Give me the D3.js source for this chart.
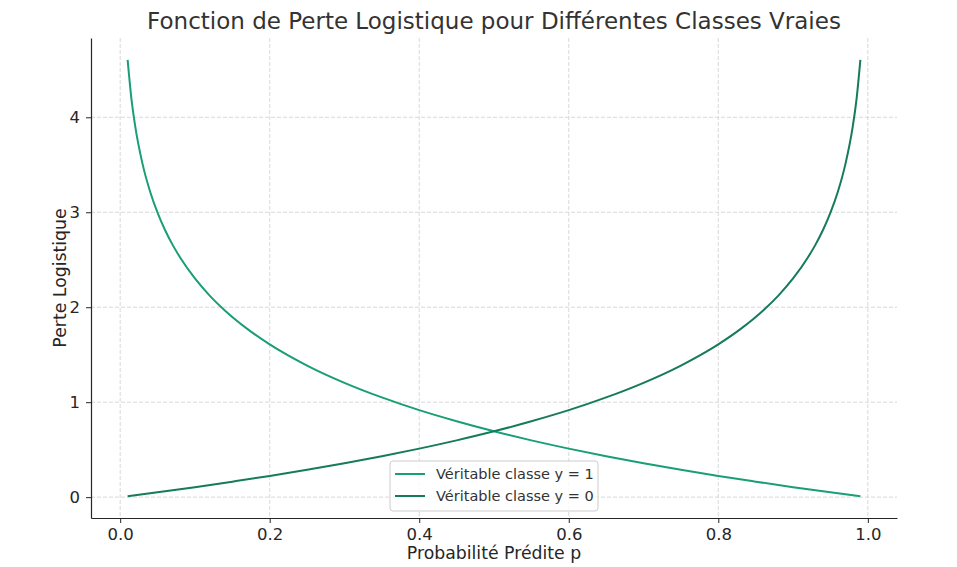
<!DOCTYPE html>
<html lang="fr">
<head>
  <meta charset="UTF-8">
  <title>Fonction de Perte Logistique</title>
  <script src="https://d3js.org/d3.v7.min.js"></script>
</head>
<style>
  body{
    margin:0;
    background:white;
    font-family: "DejaVu Sans", sans-serif;
  }
  .grid line{
    stroke:#cfcfcf;
    stroke-dasharray:4,2;
    stroke-width:0.8;
  }
</style>
<body>
  <div id="chart"></div>
<script>
// predicted probability p and log-loss, class y = 1
var p1 = [0.01, 0.015, 0.02, 0.03, 0.04, 0.05, 0.06, 0.07, 0.08, 0.10, 0.12, 0.14, 0.17, 0.20, 0.25,
          0.30, 0.35, 0.40, 0.45, 0.50, 0.55, 0.60, 0.65, 0.70, 0.75, 0.80, 0.85, 0.90, 0.95, 0.99];
var loss1 = [4.605, 4.200, 3.912, 3.507, 3.219, 2.996, 2.813, 2.659, 2.526, 2.303, 2.120, 1.966, 1.772, 1.609, 1.386,
             1.204, 1.050, 0.916, 0.799, 0.693, 0.598, 0.511, 0.431, 0.357, 0.288, 0.223, 0.163, 0.105, 0.051, 0.010];
// class y = 0
var p0 = [0.01, 0.05, 0.10, 0.15, 0.20, 0.25, 0.30, 0.35, 0.40, 0.45, 0.50, 0.55, 0.60, 0.65, 0.70,
          0.75, 0.80, 0.83, 0.86, 0.88, 0.90, 0.92, 0.93, 0.94, 0.95, 0.96, 0.97, 0.98, 0.985, 0.99];
var loss0 = [0.010, 0.051, 0.105, 0.163, 0.223, 0.288, 0.357, 0.431, 0.511, 0.598, 0.693, 0.799, 0.916, 1.050, 1.204,
             1.386, 1.609, 1.772, 1.966, 2.120, 2.303, 2.526, 2.659, 2.813, 2.996, 3.219, 3.507, 3.912, 4.200, 4.605];
var seriesNames = ["Véritable classe y = 1", "Véritable classe y = 0"];
var seriesColours = ["#1a9e77", "#167a5d"];
var xTicks = [0.0, 0.2, 0.4, 0.6, 0.8, 1.0];
var yTicks = [0, 1, 2, 3, 4];

var width = 957, height = 567;
// plot area edges (don't call it "top", that is window.top)
var mLeft = 91, mRight = 897, mTop = 38, mBottom = 518;

var svg = d3.select("#chart").append("svg")
  .attr("width", width)
  .attr("height", height);

// 5% margins round the data like matplotlib
var xScale = d3.scaleLinear().domain([-0.039, 1.039]).range([mLeft, mRight]);
var yScale = d3.scaleLinear().domain([-0.2197, 4.835]).range([mBottom, mTop]);

// grid lines
svg.append("g").attr("class", "grid")
  .selectAll("line").data(xTicks).enter().append("line")
    .attr("x1", function(d){return xScale(d);})
    .attr("x2", function(d){return xScale(d);})
    .attr("y1", mTop).attr("y2", mBottom);
svg.append("g").attr("class", "grid")
  .selectAll("line").data(yTicks).enter().append("line")
    .attr("x1", mLeft).attr("x2", mRight)
    .attr("y1", function(d){return yScale(d);})
    .attr("y2", function(d){return yScale(d);});

// the two curves
var series = [
  p1.map(function(d,i){return [d, loss1[i]];}),
  p0.map(function(d,i){return [d, loss0[i]];})
];
var line = d3.line()
  .x(function(d){return xScale(d[0]);})
  .y(function(d){return yScale(d[1]);})
  .curve(d3.curveMonotoneX);
svg.selectAll("path.curve").data(series).enter().append("path")
  .attr("class", "curve")
  .attr("d", line)
  .attr("fill", "none")
  .attr("stroke", function(d,i){return seriesColours[i];})
  .attr("stroke-width", 2);

// axes (tickSizeOuter last, tickSize would reset it)
var xAxis = d3.axisBottom(xScale).tickValues(xTicks).tickFormat(d3.format(".1f"))
  .tickSize(5).tickSizeOuter(0).tickPadding(5);
var yAxis = d3.axisLeft(yScale).tickValues(yTicks).tickFormat(d3.format("d"))
  .tickSize(5).tickSizeOuter(0).tickPadding(6);
svg.append("g").attr("class", "axis")
  .attr("transform", "translate(0," + mBottom + ")")
  .call(xAxis);
svg.append("g").attr("class", "axis")
  .attr("transform", "translate(" + mLeft + ",0)")
  .call(yAxis);
svg.selectAll(".axis .domain").attr("stroke", "#262626").attr("stroke-width", 1.2);
svg.selectAll(".axis .tick line").attr("stroke", "#262626").attr("stroke-width", 1);
svg.selectAll(".axis text")
  .attr("font-family", "DejaVu Sans")
  .attr("font-size", "16.5px")
  .attr("fill", "#262626");

// labels
svg.append("text")
  .attr("x", (mLeft + mRight) / 2).attr("y", 29)
  .attr("text-anchor", "middle")
  .attr("font-size", "23px")
  .attr("fill", "#333333")
  .text("Fonction de Perte Logistique pour Différentes Classes Vraies");
svg.append("text")
  .attr("x", (mLeft + mRight) / 2).attr("y", 559)
  .attr("text-anchor", "middle")
  .attr("font-size", "17.3px")
  .attr("fill", "#262626")
  .text("Probabilité Prédite p");
svg.append("text")
  .attr("transform", "translate(66," + (mTop + mBottom) / 2 + ") rotate(-90)")
  .attr("text-anchor", "middle")
  .attr("font-size", "17.3px")
  .attr("fill", "#262626")
  .text("Perte Logistique");

// legend
var legend = svg.append("g").attr("transform", "translate(390,461)");
legend.append("rect")
  .attr("width", 208).attr("height", 50)
  .attr("rx", 3)
  .attr("fill", "white").attr("fill-opacity", 0.8)
  .attr("stroke", "#cccccc");
var item = legend.selectAll("g.item").data(seriesNames).enter().append("g")
  .attr("transform", function(d,i){return "translate(0," + (13 + i*22) + ")";});
item.append("line")
  .attr("x1", 5).attr("x2", 35)
  .attr("stroke", function(d,i){return seriesColours[i];})
  .attr("stroke-width", 2);
item.append("text")
  .attr("x", 46).attr("dy", "0.35em")
  .attr("font-size", "14.5px")
  .attr("fill", "#333333")
  .text(function(d){return d;});
</script>
</body>
</html>
